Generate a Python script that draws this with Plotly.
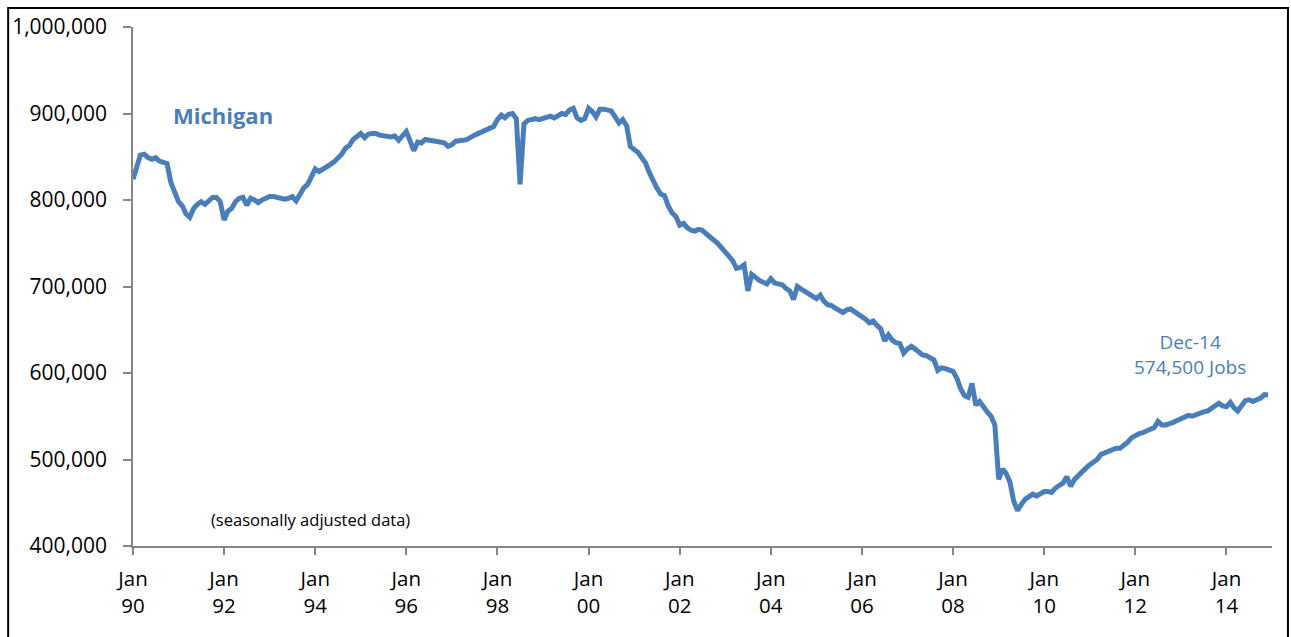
import pandas as pd
import plotly.graph_objects as go

# Monthly Michigan jobs (thousands), Jan 1990 - Dec 2014
y1990 = [824, 840, 852, 853, 849, 847, 849, 845, 843, 842, 820, 810]
y1991 = [798, 793, 784, 780, 790, 795, 798, 795, 800, 803, 803, 798]
y1992 = [777, 787, 790, 798, 802, 803, 794, 802, 800, 797, 800, 802]
y1993 = [804, 804, 803, 802, 801, 802, 804, 799, 806, 814, 818, 826]
y1994 = [836, 833, 836, 839, 841, 844, 848, 853, 860, 863, 870, 874]
y1995 = [877, 872, 876, 877, 877, 875, 874, 873, 873, 874, 869, 874]
y1996 = [879, 868, 857, 867, 866, 870, 869, 868, 868, 867, 866, 862]
y1997 = [864, 868, 868, 869, 870, 873, 875, 877, 879, 882, 884, 885]
y1998 = [893, 898, 895, 899, 900, 894, 818, 888, 892, 893, 894, 893]
y1999 = [894, 895, 897, 895, 897, 900, 899, 904, 906, 895, 892, 894]
y2000 = [906, 902, 896, 905, 905, 904, 903, 896, 889, 893, 886, 862]
y2001 = [859, 855, 849, 843, 832, 822, 814, 807, 805, 793, 785, 781]
y2002 = [771, 773, 768, 765, 764, 766, 765, 761, 757, 755, 750, 745]
y2003 = [740, 734, 730, 721, 722, 725, 695, 714, 710, 707, 705, 703]
y2004 = [709, 704, 703, 702, 698, 695, 685, 700, 697, 694, 691, 689]
y2005 = [686, 690, 683, 679, 678, 675, 672, 670, 673, 674, 671, 668]
y2006 = [666, 662, 658, 660, 655, 651, 637, 644, 638, 635, 634, 623]
y2007 = [628, 631, 628, 625, 621, 620, 618, 615, 603, 606, 605, 603]
y2008 = [602, 594, 582, 574, 572, 588, 563, 567, 560, 555, 550, 540]
y2009 = [477, 489, 484, 474, 452, 441, 448, 454, 457, 460, 458, 461]
y2010 = [463, 463, 462, 467, 470, 473, 480, 469, 477, 482, 487, 490]
y2011 = [494, 497, 500, 506, 508, 509, 511, 513, 513, 516, 520, 525]
y2012 = [528, 530, 531, 533, 535, 537, 544, 540, 540, 541, 543, 545]
y2013 = [547, 549, 551, 550, 552, 553, 555, 556, 559, 563, 565, 562]
y2014 = [561, 566, 560, 556, 563, 568, 569, 567, 569, 571, 575, 574.5]

years = [y1990, y1991, y1992, y1993, y1994, y1995, y1996, y1997, y1998,
         y1999, y2000, y2001, y2002, y2003, y2004, y2005, y2006, y2007,
         y2008, y2009, y2010, y2011, y2012, y2013, y2014]
jobs = [v * 1000 for yr in years for v in yr]
months = pd.date_range("1990-01-01", periods=len(jobs), freq="MS")

tick_vals = pd.date_range("1990-01-01", "2014-01-01", freq="24MS")
tick_text = ["Jan<br>%02d" % (d.year % 100) for d in tick_vals]
y_ticks = [400000, 500000, 600000, 700000, 800000, 900000, 1000000]

LINE = "#4A7EBB"
AXIS = "#868686"
FONT = "Open Sans"

fig = go.Figure()
fig.add_trace(go.Scatter(x=months, y=jobs, mode="lines",
                         line=dict(color=LINE, width=5), hoverinfo="skip"))

fig.update_layout(
    width=1291, height=637,
    margin=dict(l=131, r=19, t=25, b=91),
    paper_bgcolor="white", plot_bgcolor="white",
    showlegend=False,
    font=dict(family=FONT, color="black", size=20),
    xaxis=dict(range=["1990-01-01", "2015-01-01"], tickmode="array",
               tickvals=list(tick_vals), ticktext=tick_text,
               showgrid=False, zeroline=False, showline=True,
               linecolor=AXIS, linewidth=1.5, ticks="outside", ticklen=7,
               tickcolor=AXIS, tickwidth=1.5, ticklabelstandoff=7,
               tickfont=dict(family=FONT, size=20.5, color="black")),
    yaxis=dict(range=[400000, 1000000], tickmode="array", tickvals=y_ticks,
               tickformat=",d", showgrid=False, zeroline=False,
               showline=True, linecolor=AXIS, linewidth=1.5,
               ticks="outside", ticklen=8, tickcolor=AXIS, tickwidth=1.5,
               ticklabelstandoff=12,
               tickfont=dict(family=FONT, size=21, color="black")),
)

fig.add_annotation(x="1990-11-01", y=898000, text="<b>Michigan</b>",
                   showarrow=False, xanchor="left", yanchor="middle",
                   font=dict(family=FONT, size=22, color=LINE))
fig.add_annotation(x="2013-03-15", y=621000, text="Dec-14<br>574,500 Jobs",
                   showarrow=False, xanchor="center", yanchor="middle",
                   font=dict(family=FONT, size=19, color=LINE))
fig.add_annotation(x="1991-09-01", y=431000, text="(seasonally adjusted data)",
                   showarrow=False, xanchor="left", yanchor="middle",
                   font=dict(family=FONT, size=16.5, color="black"))

# outer chart frame
fig.add_shape(type="rect", xref="paper", yref="paper",
              x0=-0.1096, x1=1.0140, y0=-0.3, y1=1.0365,
              line=dict(color="black", width=2), layer="below")

fig.write_html("out.html", config={"displayModeBar": False},
               post_script="document.body.style.margin='0';")
